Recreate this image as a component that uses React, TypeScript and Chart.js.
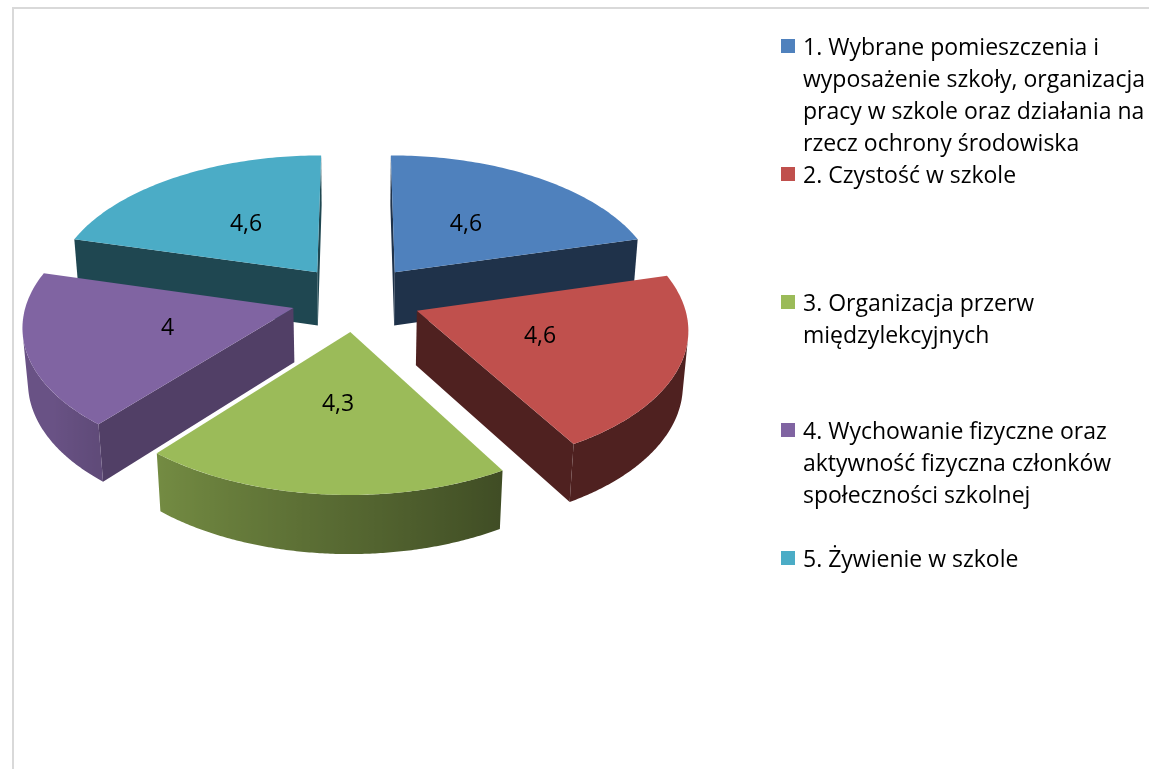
import React, { useEffect, useRef } from "react";
import { Chart, registerables } from "chart.js";

Chart.register(...registerables);

// ---- data ----
const categories = [
  "1. Wybrane pomieszczenia i wyposażenie szkoły, organizacja pracy w szkole oraz działania na rzecz ochrony środowiska",
  "2. Czystość w szkole",
  "3. Organizacja przerw międzylekcyjnych",
  "4. Wychowanie fizyczne oraz aktywność fizyczna członków społeczności szkolnej",
  "5. Żywienie w szkole",
];
const legendLines = [
  ["1. Wybrane pomieszczenia i", "wyposażenie szkoły, organizacja", "pracy w szkole oraz działania na", "rzecz ochrony środowiska"],
  ["2. Czystość w szkole"],
  ["3. Organizacja przerw", "międzylekcyjnych"],
  ["4. Wychowanie fizyczne oraz", "aktywność fizyczna członków", "społeczności szkolnej"],
  ["5. Żywienie w szkole"],
];
const values = [4.6, 4.6, 4.3, 4, 4.6];

// ---- styles ----
const colors = ["#4F81BD", "#C0504D", "#9BBB59", "#8064A2", "#4BACC6"];
const faceShade = [0.39, 0.41, 0.45, 0.63, 0.41];
const FONT = "'Open Sans', Lato, sans-serif";
const VIEW = {
  focal: 9.97,
  dist: 7.5,
  tilt: (30.7 * Math.PI) / 180,
  height: 0.24,
  labelPos: 0.48,
};

function hexToRgb(hex: string) {
  const n = parseInt(hex.slice(1), 16);
  return [(n >> 16) & 255, (n >> 8) & 255, n & 255];
}
function shade(hex: string, f: number) {
  const [r, g, b] = hexToRgb(hex);
  return `rgb(${Math.round(r * f)},${Math.round(g * f)},${Math.round(b * f)})`;
}
function outerShade(phiDeg: number) {
  const p = ((phiDeg % 360) + 360) % 360;
  if (p <= 150) return 0.41;
  if (p >= 235) return 0.82;
  return 0.41 + ((p - 150) / 85) * 0.41;
}

const pie3d = {
  id: "pie3d",
  beforeDatasetsDraw(chart: any) {
    const ctx = chart.ctx as CanvasRenderingContext2D;
    const meta = chart.getDatasetMeta(0);
    const sinT = Math.sin(VIEW.tilt);
    const cosT = Math.cos(VIEW.tilt);
    const camZ = VIEW.dist * cosT;
    const H = VIEW.height;

    const slices = meta.data.map((arc: any, i: number) => {
      const p = arc.getProps(["x", "y", "startAngle", "endAngle", "outerRadius"], true);
      const R = p.outerRadius;
      const mid = (p.startAngle + p.endAngle) / 2;
      const off = (arc.options.offset || 0) / R;
      return {
        i,
        cx: p.x,
        cy: p.y,
        R,
        a0: p.startAngle,
        a1: p.endAngle,
        mid,
        tx: Math.cos(mid) * off,
        tz: Math.sin(mid) * off,
      };
    });

    const proj = (s: any, x: number, z: number, h: number) => {
      const zc = VIEW.dist - z * cosT - h * sinT;
      const yc = z * sinT - h * cosT;
      return [s.cx + (VIEW.focal * s.R * x) / zc, s.cy + (VIEW.focal * s.R * yc) / zc];
    };
    const rim = (s: any, a: number) => [s.tx + Math.cos(a), s.tz + Math.sin(a)];
    const poly = (pts: number[][], fill: any) => {
      ctx.beginPath();
      pts.forEach((q, k) => (k ? ctx.lineTo(q[0], q[1]) : ctx.moveTo(q[0], q[1])));
      ctx.closePath();
      ctx.fillStyle = fill;
      ctx.fill();
    };
    const visible = (nx: number, nz: number, px: number, pz: number) =>
      nx * (0 - px) + nz * (camZ - pz) > 0;

    ctx.save();
    const order = [...slices].sort((a, b) => a.tz - b.tz);
    for (const s of order) {
      const col = colors[s.i];
      const r0 = rim(s, s.a0);
      if (visible(Math.sin(s.a0), -Math.cos(s.a0), s.tx, s.tz)) {
        poly(
          [proj(s, s.tx, s.tz, 0), proj(s, r0[0], r0[1], 0), proj(s, r0[0], r0[1], -H), proj(s, s.tx, s.tz, -H)],
          shade(col, faceShade[s.i])
        );
      }
      const r1 = rim(s, s.a1);
      if (visible(-Math.sin(s.a1), Math.cos(s.a1), s.tx, s.tz)) {
        poly(
          [proj(s, s.tx, s.tz, 0), proj(s, r1[0], r1[1], 0), proj(s, r1[0], r1[1], -H), proj(s, s.tx, s.tz, -H)],
          shade(col, faceShade[s.i])
        );
      }
      // outer surface: contiguous visible angle range, single polygon with gradient
      const steps = Math.max(12, Math.ceil((s.a1 - s.a0) / ((0.5 * Math.PI) / 180)));
      const vis: number[] = [];
      for (let k = 0; k <= steps; k++) {
        const a = s.a0 + ((s.a1 - s.a0) * k) / steps;
        const p = rim(s, a);
        if (visible(Math.cos(a), Math.sin(a), p[0], p[1])) vis.push(a);
      }
      if (vis.length > 1) {
        const top = vis.map((a) => {
          const p = rim(s, a);
          return proj(s, p[0], p[1], 0);
        });
        const bot = vis.map((a) => {
          const p = rim(s, a);
          return proj(s, p[0], p[1], -H);
        });
        const xs = top.map((q) => q[0]);
        const xmin = Math.min(...xs), xmax = Math.max(...xs);
        const grad = ctx.createLinearGradient(xmin, 0, xmax, 0);
        const span = Math.max(1e-6, xmax - xmin);
        vis.forEach((a, k) => {
          const t = Math.min(1, Math.max(0, (xs[k] - xmin) / span));
          grad.addColorStop(t, shade(col, outerShade((a * 180) / Math.PI + 90)));
        });
        poly([...top, ...bot.reverse()], grad);
      }
    }
    for (const s of slices) {
      const pts: number[][] = [proj(s, s.tx, s.tz, 0)];
      const steps = Math.max(8, Math.ceil((s.a1 - s.a0) / ((1 * Math.PI) / 180)));
      for (let k = 0; k <= steps; k++) {
        const a = s.a0 + ((s.a1 - s.a0) * k) / steps;
        const r = rim(s, a);
        pts.push(proj(s, r[0], r[1], 0));
      }
      poly(pts, colors[s.i]);
    }
    ctx.font = `23px ${FONT}`;
    ctx.fillStyle = "#000";
    ctx.textAlign = "center";
    ctx.textBaseline = "middle";
    for (const s of slices) {
      const lx = s.tx + Math.cos(s.mid) * VIEW.labelPos;
      const lz = s.tz + Math.sin(s.mid) * VIEW.labelPos;
      const q = proj(s, lx, lz, 0);
      ctx.fillText(String(values[s.i]).replace(".", ","), q[0], q[1]);
    }
    ctx.restore();
    return false;
  },
};

export default function App() {
  const canvasRef = useRef<HTMLCanvasElement | null>(null);

  useEffect(() => {
    if (!canvasRef.current) return;
    const chart = new Chart(canvasRef.current, {
      type: "pie",
      data: {
        labels: categories,
        datasets: [
          {
            data: values,
            backgroundColor: colors,
            borderWidth: 0,
            offset: 49,
          },
        ],
      },
      options: {
        animation: false,
        responsive: true,
        maintainAspectRatio: false,
        radius: 200,
        layout: { padding: { left: 0, right: 437, top: 0, bottom: 173 } },
        plugins: {
          legend: { display: false },
          tooltip: { enabled: false },
        },
      } as any,
      plugins: [pie3d as any],
    });
    return () => chart.destroy();
  }, []);

  return (
    <div style={{ position: "fixed", left: 0, top: 0, width: 1149, height: 769, background: "#fff", overflow: "hidden" }}>
      <div
        style={{
          position: "absolute",
          left: 12,
          top: 7,
          width: 1300,
          height: 900,
          border: "2px solid #D9D9D9",
          boxSizing: "border-box",
        }}
      />
      <div style={{ position: "absolute", left: 0, top: 0, width: 1149, height: 769 }}>
        <canvas ref={canvasRef} />
      </div>
      <div style={{ position: "absolute", left: 781, top: 30, fontFamily: FONT, fontSize: 23, color: "#000" }}>
        {legendLines.map((lines, i) => (
          <div key={i} style={{ display: "flex", height: 128 }}>
            <div style={{ width: 14, height: 14, marginTop: 9, marginRight: 8, background: colors[i], flex: "none" }} />
            <div>
              {lines.map((t, k) => (
                <div key={k} style={{ lineHeight: "32px", whiteSpace: "nowrap" }}>
                  {t}
                </div>
              ))}
            </div>
          </div>
        ))}
      </div>
    </div>
  );
}
